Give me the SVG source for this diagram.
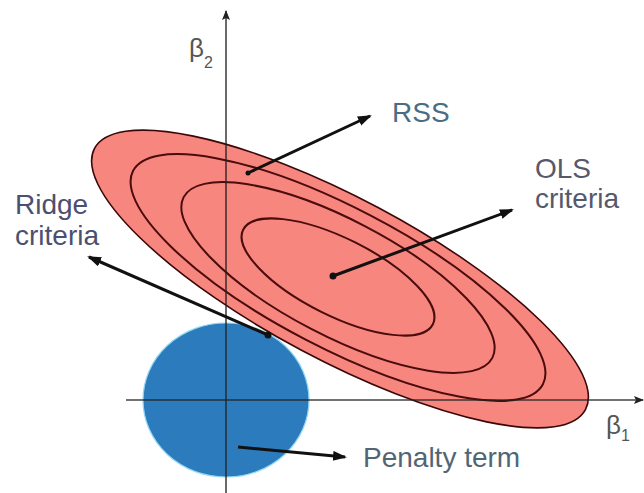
<svg xmlns="http://www.w3.org/2000/svg" width="644" height="493" viewBox="0 0 644 493">
  <style>
    .lbl { font-family: "Liberation Sans", Arial, sans-serif; font-size: 28px; }
    .greek { font-family: "Liberation Sans", Arial, sans-serif; fill: #555; }
    .ring { fill: none; stroke: #4a0c0c; stroke-width: 2; }
    .conn { stroke: #111; stroke-width: 3; fill: none; }
    .axis { stroke: #222; stroke-width: 1.6; fill: none; }
  </style>
  <defs>
    <marker id="ah" markerUnits="userSpaceOnUse" markerWidth="16" markerHeight="12" refX="12" refY="5" orient="auto">
      <path d="M0,0 L14,5 L0,10 z" fill="#111"/>
    </marker>
    <marker id="axh" markerUnits="userSpaceOnUse" markerWidth="12" markerHeight="10" refX="9" refY="4" orient="auto">
      <path d="M0,0 L10,4 L0,8 L2,4 z" fill="#222"/>
    </marker>
  </defs>
  <rect width="644" height="493" fill="#ffffff"/>

  <g id="penalty-region">
    <ellipse cx="226" cy="400" rx="83" ry="77" fill="#2b7bbd" stroke="#8fd6f2" stroke-width="1.2"/>
  </g>

  <g id="rss-contours">
    <ellipse cx="0" cy="0" rx="278" ry="81" transform="translate(340 279) rotate(28)" fill="#f7867f" stroke="#3a0808" stroke-width="1.6"/>
    <ellipse class="ring" cx="0" cy="0" rx="231" ry="70" transform="translate(338 277.5) rotate(27.5)"/>
    <ellipse class="ring" cx="0" cy="0" rx="174" ry="58" transform="translate(338 277.5) rotate(27.5)"/>
    <ellipse class="ring" cx="0" cy="0" rx="106" ry="38.6" transform="translate(338 277) rotate(26.5)"/>
  </g>

  <g id="axes">
    <line class="axis" x1="226" y1="493" x2="226" y2="11" marker-end="url(#axh)" stroke-opacity="0.85"/>
    <line class="axis" x1="126" y1="400" x2="643" y2="400" marker-end="url(#axh)" stroke-opacity="0.85"/>
  </g>

  <g id="beta2-label">
    <text class="greek" x="189" y="57" font-size="26">β</text>
    <text class="greek" x="204" y="68" font-size="16">2</text>
  </g>
  <g id="beta1-label">
    <text class="greek" x="606" y="434" font-size="26">β</text>
    <text class="greek" x="621" y="441" font-size="16">1</text>
  </g>

  <g id="rss-label">
    <text class="lbl" x="392" y="122" fill="#4a6d86">RSS</text>
  </g>
  <g id="ols-label">
    <text class="lbl" x="535" y="178" fill="#55596c">OLS</text>
    <text class="lbl" x="535" y="208" fill="#55596c">criteria</text>
  </g>
  <g id="ridge-label">
    <text class="lbl" x="15" y="214" fill="#4b5070">Ridge</text>
    <text class="lbl" x="15" y="245" fill="#4b5070">criteria</text>
  </g>
  <g id="penalty-label">
    <text class="lbl" x="363" y="467" fill="#506676">Penalty term</text>
  </g>

  <g id="connectors">
    <line class="conn" x1="248" y1="173" x2="370" y2="116" marker-end="url(#ah)"/>
    <circle cx="248" cy="173" r="2.5" fill="#111"/>
    <line class="conn" x1="333" y1="276" x2="512" y2="210" marker-end="url(#ah)"/>
    <circle cx="333" cy="276" r="3.5" fill="#111"/>
    <line class="conn" x1="268" y1="335" x2="89" y2="257" marker-end="url(#ah)"/>
    <circle cx="268" cy="335" r="3.5" fill="#111"/>
    <line class="conn" x1="238" y1="447" x2="345" y2="457" marker-end="url(#ah)"/>
  </g>
</svg>
